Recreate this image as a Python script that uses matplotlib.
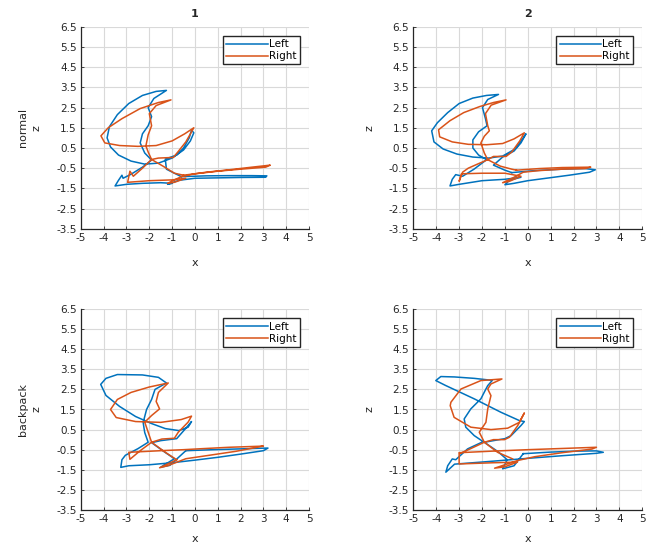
import numpy as np
from matplotlib import pyplot as plt

plt.rcParams['font.family'] = ['DejaVu Sans']
plt.rcParams['axes.unicode_minus'] = False

# trial 1, normal
left_1n_x = [-0.6, 0.5, 1.5, 2.5, 3.15, 3.1, 2.0, 1.0, 0.0, -0.7, -1.2, -1.0, -1.5, -2.3, -3.0, -3.5, -3.35, -3.2, -3.15, -2.8,
             -2.3, -1.9, -2.2, -2.4, -2.3, -2.05, -1.9, -2.05, -1.8, -1.25, -1.7, -2.3, -2.9, -3.4, -3.75, -3.85, -3.7, -3.35,
             -2.8, -2.2, -1.6, -1.0, -0.5, -0.2, -0.05, -0.15, -0.25, -0.5, -0.8, -1.3, -1.25, -0.6]
left_1n_z = [-0.92, -0.88, -0.87, -0.87, -0.88, -0.95, -0.96, -0.98, -1.0, -1.1, -1.3, -1.25, -1.22, -1.25, -1.3, -1.38, -1.1,
             -0.85, -1.0, -0.8, -0.45, -0.1, 0.25, 0.75, 1.2, 1.6, 2.05, 2.5, 2.95, 3.35, 3.3, 3.1, 2.7, 2.15, 1.55, 1.0, 0.55,
             0.15, -0.15, -0.3, -0.25, 0.0, 0.4, 0.85, 1.25, 1.38, 1.0, 0.5, 0.15, -0.05, -0.55, -0.92]
right_1n_x = [-0.5, 0.5, 1.5, 2.5, 3.3, 3.1, 2.0, 1.0, 0.0, -0.6, -1.2, -0.9, -0.4, -1.0, -2.0, -2.95, -2.85, -2.7, -2.3, -1.9,
              -2.05, -2.15, -2.05, -1.9, -2.0, -1.7, -1.05, -1.6, -2.4, -3.2, -3.8, -4.12, -3.95, -3.3, -2.5, -1.7, -1.0,
              -0.45, -0.05, -0.4, -0.75, -0.95, -1.6, -1.9, -1.4, -0.9, -0.5]
right_1n_z = [-0.85, -0.7, -0.58, -0.45, -0.35, -0.45, -0.55, -0.65, -0.78, -0.92, -1.25, -1.2, -1.0, -1.08, -1.12, -1.2,
              -0.65, -0.9, -0.5, -0.07, 0.3, 0.6, 1.15, 1.6, 2.2, 2.6, 2.88, 2.75, 2.45, 1.95, 1.5, 1.1, 0.75, 0.62, 0.58,
              0.62, 0.85, 1.2, 1.5, 0.8, 0.3, 0.03, 0.0, -0.07, -0.4, -0.75, -0.85]

# trial 2, normal
left_2n_x = [-0.7, 0.3, 1.5, 2.5, 2.95, 2.7, 1.8, 0.8, 0.0, -0.6, -1.0, -0.8, -0.3, -1.0, -2.0, -3.0, -3.4, -3.3, -3.15, -2.85,
             -2.35, -1.8, -2.15, -2.4, -2.4, -2.15, -1.78, -1.85, -1.98, -1.75, -1.28, -1.8, -2.4, -3.0, -3.5, -3.95, -4.2,
             -4.1, -3.7, -3.1, -2.4, -1.7, -1.1, -0.55, -0.2, -0.08, -0.3, -0.6, -1.1, -1.5, -1.0, -0.7]
left_2n_z = [-0.72, -0.62, -0.55, -0.52, -0.58, -0.7, -0.85, -1.0, -1.12, -1.25, -1.32, -1.1, -0.95, -1.05, -1.12, -1.3,
             -1.38, -1.05, -0.82, -0.9, -0.55, -0.08, 0.15, 0.5, 0.9, 1.3, 1.6, 1.95, 2.5, 2.9, 3.15, 3.1, 2.97, 2.7, 2.25,
             1.75, 1.35, 0.8, 0.45, 0.2, 0.05, 0.0, 0.1, 0.45, 1.0, 1.2, 0.75, 0.35, 0.05, -0.35, -0.6, -0.72]
right_2n_x = [-0.5, 0.5, 1.5, 2.75, 2.5, 1.5, 0.5, -0.2, -0.6, -1.1, -0.8, -0.3, -1.0, -2.0, -2.9, -3.0, -2.85, -2.6, -2.2,
              -1.75, -1.9, -2.05, -1.9, -1.68, -1.75, -1.85, -1.6, -0.95, -1.5, -2.1, -2.8, -3.4, -3.9, -3.85, -3.3, -2.6,
              -1.8, -1.1, -0.6, -0.15, -0.35, -0.7, -0.95, -1.5, -1.75, -1.2, -0.7, -0.5]
right_2n_z = [-0.6, -0.52, -0.47, -0.45, -0.52, -0.55, -0.62, -0.7, -0.95, -1.22, -1.15, -0.9, -0.75, -0.75, -0.78, -1.15,
              -0.7, -0.5, -0.3, -0.08, 0.25, 0.75, 1.08, 1.35, 1.6, 2.2, 2.62, 2.88, 2.75, 2.55, 2.25, 1.85, 1.4, 1.05, 0.8,
              0.68, 0.66, 0.72, 0.95, 1.25, 0.85, 0.3, 0.08, 0.08, -0.08, -0.4, -0.55, -0.6]

# trial 1, backpack
left_1b_x = [-0.4, 0.8, 2.0, 2.8, 3.2, 3.0, 2.0, 1.0, 0.0, -1.0, -2.0, -2.9, -3.25, -3.2, -3.05, -2.5, -2.05, -2.2, -2.27,
             -2.12, -1.9, -1.75, -1.25, -1.6, -2.3, -3.4, -3.9, -4.13, -3.9, -3.3, -2.6, -1.9, -1.3, -0.7, -0.3, -0.15,
             -0.45, -0.8, -1.5, -1.9, -1.35, -0.9, -1.5, -1.1, -0.4]
left_1b_z = [-0.55, -0.5, -0.46, -0.43, -0.42, -0.55, -0.72, -0.88, -1.02, -1.15, -1.25, -1.3, -1.38, -1.0, -0.78, -0.45,
             -0.13, 0.35, 0.85, 1.5, 2.0, 2.5, 2.82, 3.1, 3.22, 3.24, 3.05, 2.75, 2.2, 1.65, 1.15, 0.8, 0.55, 0.45, 0.62, 0.9,
             0.5, 0.05, -0.05, -0.15, -0.6, -0.95, -1.37, -1.28, -0.55]
right_1b_x = [-0.8, -1.55, -1.2, -0.4, 0.5, 1.8, 3.0, 2.8, 1.5, 0.3, -0.5, -1.5, -2.9, -2.85, -2.4, -1.9, -2.05, -2.2, -1.9,
              -1.55, -1.7, -1.6, -1.17, -2.0, -2.8, -3.4, -3.7, -3.45, -2.6, -1.5, -0.6, -0.15, -0.3, -0.73, -0.9, -1.45,
              -1.9, -1.3, -0.8]
right_1b_z = [-1.0, -1.4, -1.3, -0.95, -0.8, -0.58, -0.32, -0.33, -0.38, -0.45, -0.5, -0.55, -0.63, -0.98, -0.55, -0.13,
              0.37, 0.87, 1.2, 1.53, 1.9, 2.35, 2.82, 2.62, 2.35, 2.0, 1.5, 1.1, 0.9, 0.86, 1.0, 1.17, 0.87, 0.37, 0.07, 0.03,
              -0.13, -0.63, -1.0]

# trial 2, backpack
left_2b_x = [-0.2, 1.0, 2.2, 3.0, 3.3, 3.0, 1.5, 0.0, -1.5, -3.2, -3.58, -3.5, -3.3, -3.15, -2.63, -1.95, -2.34, -2.71,
             -2.78, -2.49, -2.05, -1.83, -1.75, -1.55, -2.34, -3.2, -3.8, -4.02, -3.6, -2.34, -1.17, -0.37, -0.15, -0.3,
             -0.73, -1.0, -1.9, -1.3, -0.9, -1.1, -0.6, -0.2]
left_2b_z = [-0.7, -0.62, -0.57, -0.56, -0.63, -0.68, -0.8, -0.93, -1.07, -1.22, -1.62, -1.3, -0.96, -1.0, -0.46, -0.1,
             0.2, 0.62, 1.03, 1.53, 2.03, 2.52, 2.69, 2.95, 3.05, 3.12, 3.14, 2.94, 2.7, 2.03, 1.36, 0.95, 0.9, 0.7, 0.2,
             0.05, -0.13, -0.6, -1.0, -1.45, -1.3, -0.7]
right_2b_x = [-3.0, -1.5, 0.0, 1.5, 3.0, 2.8, 1.5, 0.3, -0.45, -1.0, -1.45, -1.0, -0.45, -1.5, -3.0, -3.0, -2.5, -1.9,
              -2.12, -1.83, -1.75, -1.61, -1.75, -1.61, -1.13, -2.05, -2.92, -3.36, -3.39, -3.22, -2.49, -1.61, -0.88,
              -0.37, -0.15, -0.44, -0.8, -1.02, -1.5, -1.9, -1.32, -0.66]
right_2b_z = [-0.65, -0.57, -0.5, -0.44, -0.38, -0.47, -0.65, -0.85, -1.04, -1.25, -1.42, -1.35, -1.12, -1.15, -1.21,
              -0.71, -0.45, -0.13, 0.37, 0.86, 1.53, 2.19, 2.52, 2.77, 3.02, 2.94, 2.52, 1.86, 1.69, 1.11, 0.62, 0.5, 0.57,
              0.86, 1.33, 0.7, 0.12, 0.0, 0.0, -0.13, -0.63, -0.96]

col_titles = ['1', '2']
row_names = ['normal', 'backpack']
x_ticks = [-5, -4, -3, -2, -1, 0, 1, 2, 3, 4, 5]
z_ticks = [-3.5, -2.5, -1.5, -0.5, 0.5, 1.5, 2.5, 3.5, 4.5, 5.5, 6.5]

blue = '#0072BD'
orange = '#D95319'
txt = '#262626'

fig = plt.figure(figsize=(6.52, 5.46), dpi=100)
ax_pos = [[0.124, 0.581, 0.350, 0.370], [0.634, 0.581, 0.351, 0.370],
          [0.124, 0.066, 0.350, 0.368], [0.634, 0.066, 0.351, 0.368]]
curves = [(left_1n_x, left_1n_z, right_1n_x, right_1n_z),
          (left_2n_x, left_2n_z, right_2n_x, right_2n_z),
          (left_1b_x, left_1b_z, right_1b_x, right_1b_z),
          (left_2b_x, left_2b_z, right_2b_x, right_2b_z)]

for i in range(4):
    ax = fig.add_axes(ax_pos[i])
    lx, lz, rx, rz = curves[i]
    ax.plot(lx, lz, color=blue, lw=1.1, label='Left')
    ax.plot(rx, rz, color=orange, lw=1.1, label='Right')
    ax.set_xlim(-5, 5)
    ax.set_ylim(-3.5, 6.5)
    ax.set_xticks(x_ticks)
    ax.set_yticks(z_ticks)
    ax.set_yticklabels([str(v) for v in z_ticks])
    ax.grid(True, color='#d9d9d9', lw=0.8)
    ax.set_axisbelow(True)
    for s in ['top', 'right']:
        ax.spines[s].set_visible(False)
    for s in ['left', 'bottom']:
        ax.spines[s].set_color(txt)
        ax.spines[s].set_linewidth(0.9)
    ax.tick_params(direction='in', length=2.5, width=0.6, labelsize=7.5, colors=txt, pad=3)
    ax.set_xlabel('x', fontsize=8, color=txt)
    if i < 2:
        ax.xaxis.set_label_coords(0.5, -0.145)
    else:
        ax.xaxis.set_label_coords(0.5, -0.118)
    ax.set_ylabel('z', fontsize=8, color=txt)
    ax.yaxis.set_label_coords(-0.172, 0.5)
    leg = ax.legend(loc='upper right', fontsize=7.5, handlelength=4.0, fancybox=False, framealpha=1,
                    edgecolor=txt, borderaxespad=0.9, borderpad=0.3, labelspacing=0.2, handletextpad=0.1)
    leg.get_frame().set_linewidth(1.0)
    if i < 2:
        ax.set_title(col_titles[i], fontsize=8, fontweight='bold', color=txt, pad=7)
    if i % 2 == 0:
        ax.text(-0.255, 0.5, row_names[i // 2], transform=ax.transAxes, rotation=90,
                ha='center', va='center', fontsize=8, color=txt)

fig.savefig('out.png', dpi=100)
